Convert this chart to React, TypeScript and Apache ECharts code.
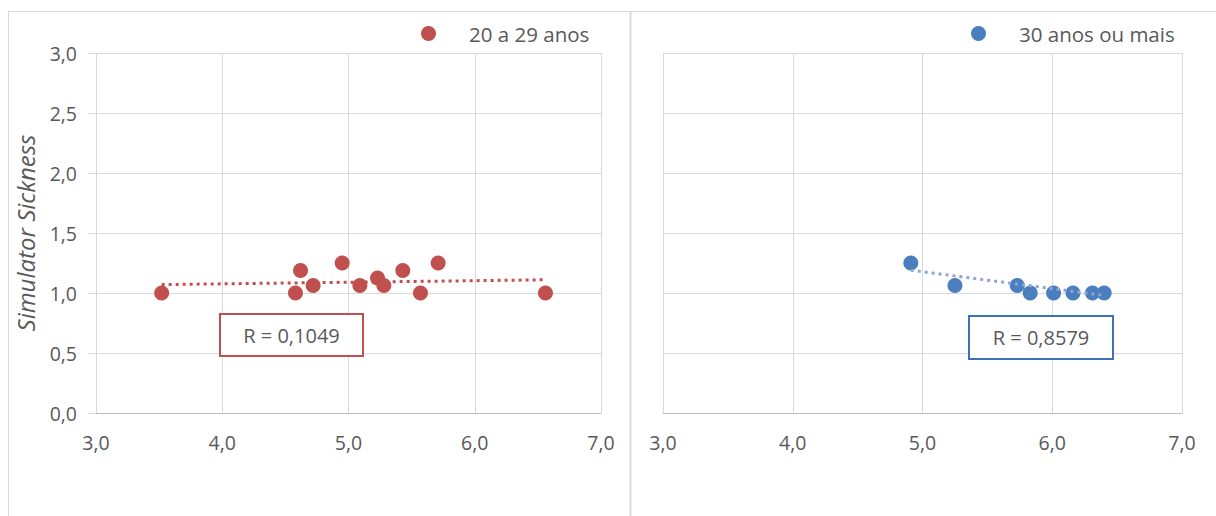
import React, { useEffect, useRef } from "react";
import * as echarts from "echarts";

// Data
const youngX = [3.52, 4.58, 4.62, 4.72, 4.95, 5.09, 5.23, 5.28, 5.43, 5.57, 5.71, 6.56];
const youngY = [1.0, 1.0, 1.1875, 1.0625, 1.25, 1.0625, 1.125, 1.0625, 1.1875, 1.0, 1.25, 1.0];
const olderX = [4.91, 5.25, 5.73, 5.83, 6.01, 6.16, 6.31, 6.4];
const olderY = [1.25, 1.0625, 1.0625, 1.0, 1.0, 1.0, 1.0, 1.0];
const youngTrend = [[3.52, 1.07], [6.56, 1.11]];
const olderTrend = [[4.91, 1.19], [6.4, 0.98]];
const seriesNames = ["20 a 29 anos", "30 anos ou mais"];
const rLabels = ["R = 0,1049", "R = 0,8579"];
const yAxisTitle = "Simulator Sickness";

const RED = "#C0504D";
const BLUE = "#4A7EBF";
const TXT = "#595959";
const GRID = "#D9D9D9";
const FONT = "Open Sans";
const FS = 19.5;

const fmt = (v: number) => v.toFixed(1).replace(".", ",");
const zip = (xs: number[], ys: number[]) => xs.map((x, i) => [x, ys[i]]);

export default function App() {
  const ref = useRef<HTMLDivElement>(null);
  useEffect(() => {
    if (!ref.current) return;
    const chart = echarts.init(ref.current, null, { renderer: "svg" });
    const xAxisBase = (gridIndex: number) => ({
      type: "value",
      gridIndex,
      min: 3,
      max: 7,
      interval: 1,
      axisLine: { show: true, lineStyle: { color: "#BFBFBF", width: 1 } },
      axisTick: { show: false },
      axisLabel: { color: TXT, fontSize: FS, fontFamily: FONT, margin: 19, formatter: fmt },
      splitLine: { show: true, lineStyle: { color: GRID, width: 1 } },
    });
    const yAxisBase = (gridIndex: number, showLabels: boolean) => ({
      type: "value",
      gridIndex,
      min: 0,
      max: 3,
      interval: 0.5,
      axisLine: { show: false },
      axisTick: { show: showLabels, length: 8, lineStyle: { color: GRID } },
      axisLabel: { show: showLabels, color: TXT, fontSize: FS, fontFamily: FONT, margin: 19, formatter: fmt },
      splitLine: { show: true, lineStyle: { color: GRID, width: 1 } },
    });
    const box = (x: number, y: number, w: number, h: number, color: string, label: string) => ({
      type: "group",
      left: x,
      top: y,
      z: 100,
      children: [
        { type: "rect", z: 100, shape: { x: 0, y: 0, width: w, height: h }, style: { fill: "#fff", stroke: color, lineWidth: 2 } },
        {
          type: "text",
          z: 101,
          x: w / 2,
          y: h / 2,
          style: { text: label, fill: TXT, fontSize: 20, fontFamily: FONT, align: "center", verticalAlign: "middle" },
        },
      ],
    });
    const legendBase = (name: string, left: number) => ({
      data: [name],
      left,
      top: 23,
      padding: 0,
      icon: "circle",
      itemWidth: 15,
      itemHeight: 15,
      textStyle: { color: TXT, fontSize: 20.5, fontFamily: FONT, padding: [0, 0, 0, 28] },
    });
    chart.setOption({
      animation: false,
      backgroundColor: "#fff",
      grid: [
        { left: 96, top: 53, width: 505, height: 360 },
        { left: 663, top: 53, width: 519, height: 360 },
      ],
      xAxis: [xAxisBase(0), xAxisBase(1)],
      yAxis: [
        {
          ...yAxisBase(0, true),
          name: yAxisTitle,
          nameLocation: "middle",
          nameGap: 59,
          nameTextStyle: { color: TXT, fontSize: 24, fontFamily: FONT, fontStyle: "italic" },
        },
        yAxisBase(1, false),
      ],
      legend: [legendBase(seriesNames[0], 421), legendBase(seriesNames[1], 971)],
      series: [
        {
          name: seriesNames[0] + " trend",
          type: "line",
          xAxisIndex: 0,
          yAxisIndex: 0,
          data: youngTrend,
          symbol: "none",
          lineStyle: { color: RED, width: 3, type: [3, 4] },
          silent: true,
          z: 1,
        },
        {
          name: seriesNames[1] + " trend",
          type: "line",
          xAxisIndex: 1,
          yAxisIndex: 1,
          data: olderTrend,
          symbol: "none",
          lineStyle: { color: "#8FA6D2", width: 3, type: [3, 4] },
          silent: true,
          z: 3,
        },
        {
          name: seriesNames[0],
          type: "scatter",
          xAxisIndex: 0,
          yAxisIndex: 0,
          data: zip(youngX, youngY),
          symbol: "circle",
          symbolSize: 15,
          itemStyle: { color: RED, opacity: 1 },
          z: 2,
        },
        {
          name: seriesNames[1],
          type: "scatter",
          xAxisIndex: 1,
          yAxisIndex: 1,
          data: zip(olderX, olderY),
          symbol: "circle",
          symbolSize: 15,
          itemStyle: { color: BLUE, opacity: 1 },
          z: 2,
        },
      ],
      graphic: [
        { type: "line", shape: { x1: 8.5, y1: 11, x2: 8.5, y2: 516 }, style: { stroke: GRID, lineWidth: 1 } },
        { type: "line", shape: { x1: 8, y1: 11.5, x2: 1216, y2: 11.5 }, style: { stroke: GRID, lineWidth: 1 } },
        { type: "line", shape: { x1: 630.5, y1: 11, x2: 630.5, y2: 516 }, style: { stroke: GRID, lineWidth: 2 } },
        box(219, 313, 143, 42, RED, rLabels[0]),
        box(968, 315, 144, 43, "#3F72B5", rLabels[1]),
      ],
    });
    return () => chart.dispose();
  }, []);
  return <div ref={ref} style={{ position: "absolute", left: 0, top: 0, width: 1216, height: 516 }} />;
}
